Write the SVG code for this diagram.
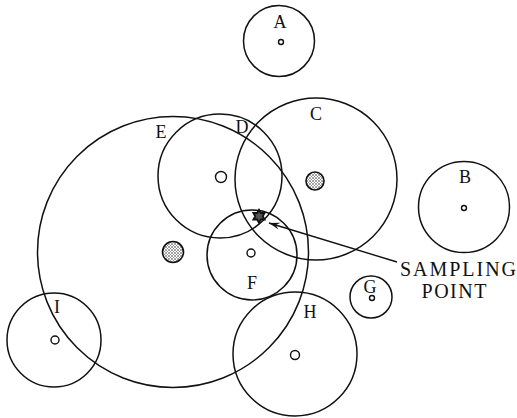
<svg xmlns="http://www.w3.org/2000/svg" width="517" height="418" viewBox="0 0 517 418">
<defs>
<pattern id="stip" width="3" height="3" patternUnits="userSpaceOnUse">
<rect width="3" height="3" fill="#ffffff"/>
<circle cx="1" cy="1" r="0.8" fill="#333"/>
<circle cx="2.5" cy="2.4" r="0.5" fill="#666"/>
</pattern>
<marker id="arr" viewBox="0 0 12 8" refX="0" refY="4" markerWidth="12" markerHeight="8" markerUnits="userSpaceOnUse" orient="auto">
<path d="M0,4 L11,0.5 L7,4 L11,7.5 Z" fill="#111"/>
</marker>
<style>
.ring{fill:none;stroke:#111;stroke-width:1.5}
.dot{fill:#fff;stroke:#111;stroke-width:1.4}
.stip{fill:url(#stip);stroke:#111;stroke-width:1.6}
.lbl{font-family:"Liberation Serif","Times New Roman",serif;font-size:18px;fill:#111;text-anchor:middle}
.big{font-family:"Liberation Serif","Times New Roman",serif;font-size:20px;fill:#111;text-anchor:middle}
.conn{fill:none;stroke:#111;stroke-width:1.4}
</style>
</defs>
<rect width="517" height="418" fill="#fff"/>
<g id="node-E">
<circle class="ring" cx="173" cy="252" r="135.5"/>
<circle class="stip" cx="173" cy="252" r="10.5"/>
<text class="lbl" x="161" y="138">E</text>
</g>
<g id="node-A">
<circle class="ring" cx="279" cy="41" r="35.5"/>
<circle class="dot" cx="281" cy="42" r="2.5"/>
<text class="lbl" x="280" y="28">A</text>
</g>
<g id="node-B">
<circle class="ring" cx="464" cy="207" r="45.5"/>
<circle class="dot" cx="464" cy="208" r="2.5"/>
<text class="lbl" x="465" y="183">B</text>
</g>
<g id="node-C">
<circle class="ring" cx="316" cy="179" r="81"/>
<circle class="stip" cx="315" cy="181" r="9"/>
<text class="lbl" x="316" y="120">C</text>
</g>
<g id="node-D">
<circle class="ring" cx="220" cy="176" r="62"/>
<circle class="dot" cx="221" cy="177" r="5.5"/>
<text class="lbl" x="242" y="133">D</text>
</g>
<g id="node-F">
<circle class="ring" cx="252" cy="255" r="45"/>
<circle class="dot" cx="251" cy="253" r="4"/>
<text class="lbl" x="252" y="289">F</text>
</g>
<g id="node-G">
<circle class="ring" cx="371" cy="297" r="21"/>
<circle class="dot" cx="372" cy="298" r="2.5"/>
<text class="lbl" x="370" y="293">G</text>
</g>
<g id="node-H">
<circle class="ring" cx="295" cy="354" r="62"/>
<circle class="dot" cx="295" cy="355" r="4.5"/>
<text class="lbl" x="310" y="318">H</text>
</g>
<g id="node-I">
<circle class="ring" cx="54" cy="340" r="47"/>
<circle class="dot" cx="55" cy="340" r="4"/>
<text class="lbl" x="57" y="313">I</text>
</g>
<g id="node-sampling-point">
<path d="M259,209 L262,214.2 L268,214.2 L265,219.4 L268,224.6 L262,224.6 L259,229.8 L256,224.6 L250,224.6 L253,219.4 L250,214.2 L256,214.2 Z" transform="translate(0,-3) translate(259,219) scale(0.62) translate(-259,-219)" fill="#555" stroke="#111" stroke-width="3"/>
<text class="big" x="458" y="276" textLength="116" lengthAdjust="spacing">SAMPLING</text>
<text class="big" x="454" y="298" textLength="65" lengthAdjust="spacing">POINT</text>
</g>
<g id="connectors">
<line class="conn" x1="269" y1="223" x2="397" y2="262" marker-start="url(#arr)"/>
</g>
</svg>
